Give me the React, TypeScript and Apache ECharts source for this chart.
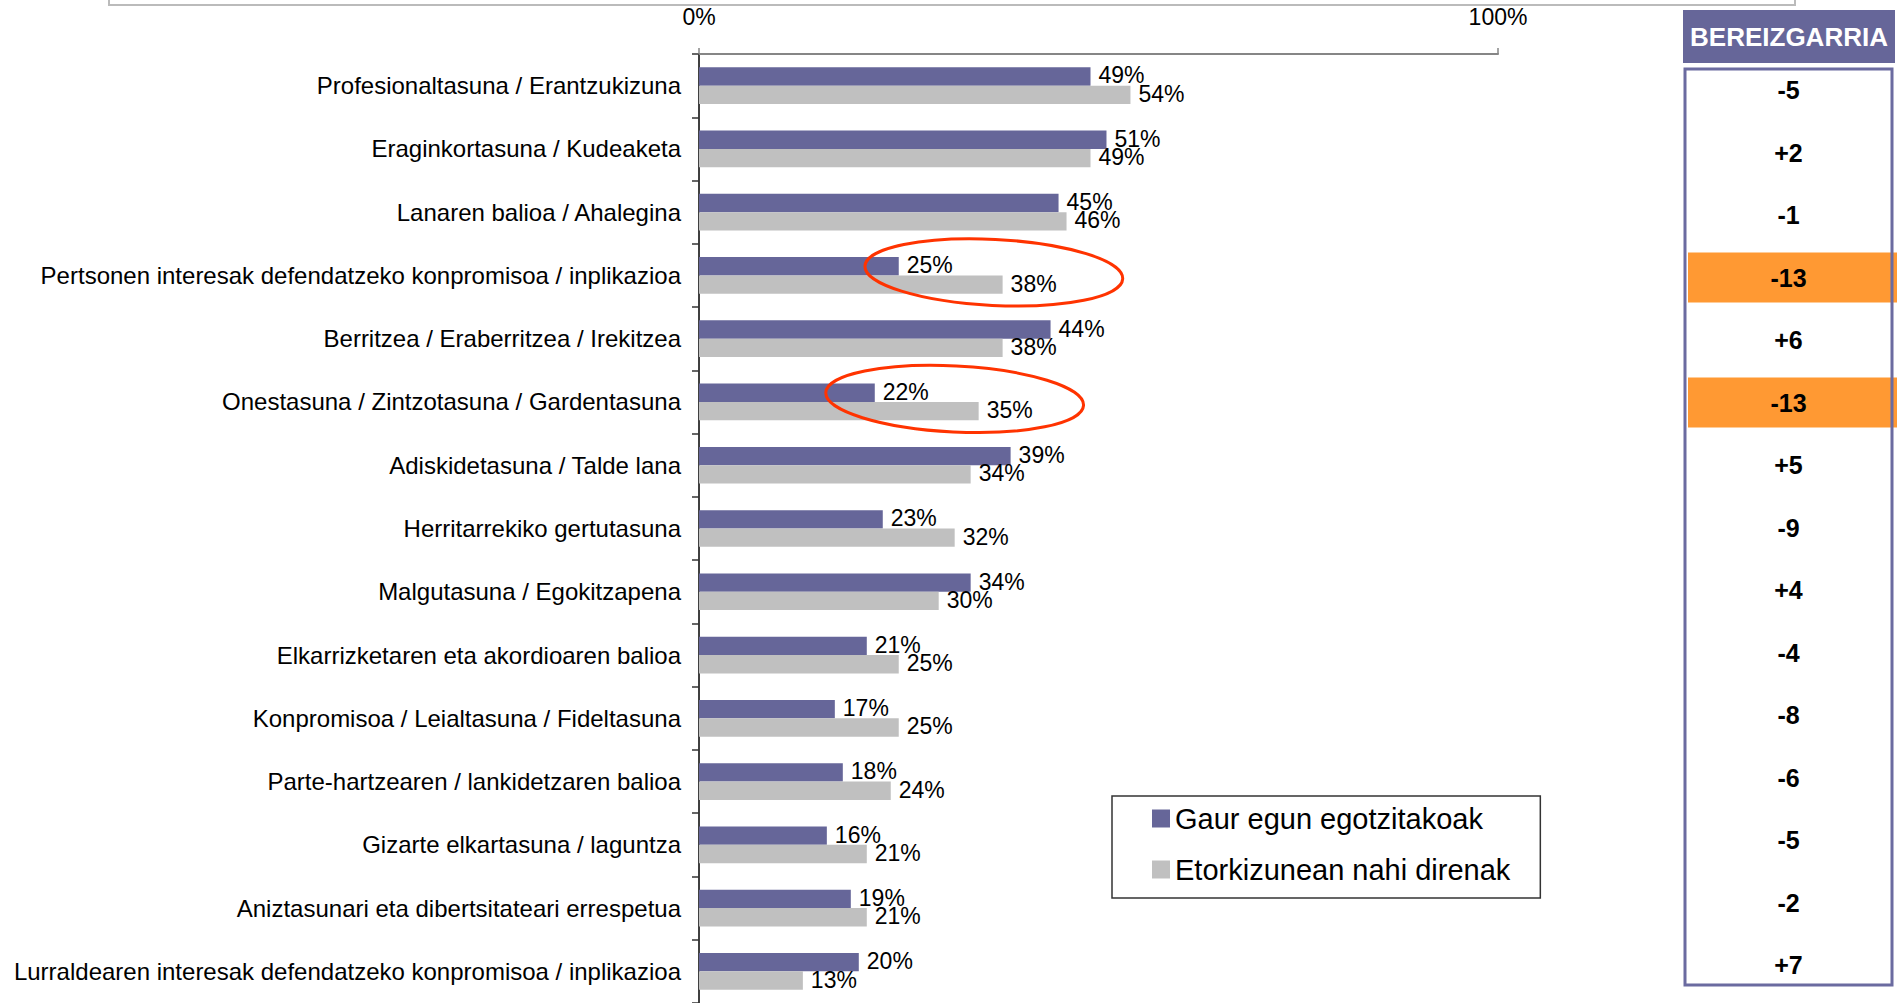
import React, { useEffect, useRef } from "react";
import * as echarts from "echarts";

const categories = [
  "Profesionaltasuna / Erantzukizuna",
  "Eraginkortasuna / Kudeaketa",
  "Lanaren balioa / Ahalegina",
  "Pertsonen interesak defendatzeko konpromisoa / inplikazioa",
  "Berritzea / Eraberritzea / Irekitzea",
  "Onestasuna / Zintzotasuna / Gardentasuna",
  "Adiskidetasuna / Talde lana",
  "Herritarrekiko gertutasuna",
  "Malgutasuna / Egokitzapena",
  "Elkarrizketaren eta akordioaren balioa",
  "Konpromisoa / Leialtasuna / Fideltasuna",
  "Parte-hartzearen / lankidetzaren balioa",
  "Gizarte elkartasuna / laguntza",
  "Aniztasunari eta dibertsitateari errespetua",
  "Lurraldearen interesak defendatzeko konpromisoa / inplikazioa",
];

const gaurEgun = [49, 51, 45, 25, 44, 22, 39, 23, 34, 21, 17, 18, 16, 19, 20];
const etorkizunean = [54, 49, 46, 38, 38, 35, 34, 32, 30, 25, 25, 24, 21, 21, 13];
const bereizgarria = ["-5", "+2", "-1", "-13", "+6", "-13", "+5", "-9", "+4", "-4", "-8", "-6", "-5", "-2", "+7"];
const highlightRows = [3, 5];
const seriesNames = ["Gaur egun egotzitakoak", "Etorkizunean nahi direnak"];
const tableTitle = "BEREIZGARRIA";
const circledRows = [3, 5];
const circleCenterValues = [36.9, 32.0];

const FONT = "'Liberation Sans', Arial, Helvetica, sans-serif";
const PURPLE = "#666699";
const GRAY = "#C0C0C0";
const ORANGE = "#FF9933";

export default function App() {
  const ref = useRef<HTMLDivElement>(null);
  useEffect(() => {
    const chart = echarts.init(ref.current!, null, { renderer: "svg" });
    const valueLabel = {
      show: true,
      position: "right",
      distance: 8,
      formatter: "{c}%",
      fontSize: 23,
      color: "#000",
      offset: [0, -1],
      fontFamily: FONT,
    };
    chart.setOption({
      animation: false,
      backgroundColor: "#ffffff",
      textStyle: { fontFamily: FONT },
      grid: [
        { left: 699, right: 399, top: 54, bottom: -8 },
        { left: 1688, right: 0, top: 58.75, bottom: 6.75 },
      ],
      xAxis: [
        {
          gridIndex: 0,
          type: "value",
          position: "top",
          min: 0,
          max: 100,
          interval: 100,
          splitLine: { show: false },
          axisLine: { show: true, lineStyle: { color: "#868686", width: 2 } },
          axisTick: { show: true, length: 6, lineStyle: { color: "#868686", width: 1.5 } },
          axisLabel: { formatter: "{value}%", fontSize: 23, color: "#000", margin: 26, fontFamily: FONT },
        },
        { gridIndex: 1, type: "value", min: 0, max: 1, show: false },
      ],
      yAxis: [
        {
          gridIndex: 0,
          type: "category",
          data: categories,
          inverse: true,
          axisLine: { show: true, lineStyle: { color: "#000", width: 1.5 } },
          axisTick: { show: true, length: 7, lineStyle: { color: "#333", width: 1.5 } },
          axisLabel: { fontSize: 24, color: "#000", margin: 18, fontFamily: FONT },
        },
        { gridIndex: 1, type: "category", data: categories, inverse: true, show: false },
      ],
      legend: {
        orient: "vertical",
        left: 1112,
        top: 796,
        padding: [8, 30, 14, 40],
        data: seriesNames,
        icon: "rect",
        itemWidth: 18,
        itemHeight: 18,
        itemGap: 22,
        borderColor: "#333",
        borderWidth: 1.5,
        backgroundColor: "#fff",
        textStyle: { fontSize: 29, color: "#000", fontFamily: FONT },
      },
      series: [
        {
          name: seriesNames[0],
          type: "bar",
          xAxisIndex: 0,
          yAxisIndex: 0,
          data: gaurEgun,
          itemStyle: { color: PURPLE },
          barGap: "0%",
          barCategoryGap: "42%",
          label: valueLabel,
        },
        {
          name: seriesNames[1],
          type: "bar",
          xAxisIndex: 0,
          yAxisIndex: 0,
          data: etorkizunean,
          itemStyle: { color: GRAY },
          barGap: "0%",
          barCategoryGap: "42%",
          label: valueLabel,
        },
        {
          type: "bar",
          xAxisIndex: 1,
          yAxisIndex: 1,
          barWidth: 50,
          silent: true,
          data: bereizgarria.map((_, i) => ({
            value: 1,
            itemStyle: { color: highlightRows.includes(i) ? ORANGE : "rgba(0,0,0,0)" },
          })),
          label: {
            show: true,
            position: "inside",
            formatter: (p: any) => bereizgarria[p.dataIndex],
            fontSize: 25,
            fontWeight: "bold",
            color: "#000",
            offset: [-4, 0],
            fontFamily: FONT,
          },
        },
      ],
    });

    const ellipses = circledRows.map((row, k) => {
      const [cx, cy] = chart.convertToPixel({ gridIndex: 0 }, [circleCenterValues[k], categories[row]]) as number[];
      return {
        type: "ellipse",
        x: cx,
        y: cy - 3,
        rotation: -0.05,
        shape: { cx: 0, cy: 0, rx: 129, ry: 33 },
        style: { fill: "none", stroke: "#FF3300", lineWidth: 3 },
        z: 20,
      };
    });

    chart.setOption({
      graphic: [
        {
          type: "rect",
          shape: { x: 109, y: -20, width: 1686, height: 25 },
          style: { fill: "none", stroke: "#BBBBBB", lineWidth: 2 },
          z: 5,
        },
        {
          type: "rect",
          shape: { x: 1683, y: 10, width: 212, height: 53 },
          style: { fill: PURPLE },
          z: 5,
        },
        {
          type: "text",
          x: 1789,
          y: 37,
          style: {
            text: tableTitle,
            fill: "#fff",
            font: `bold 26px ${FONT}`,
            align: "center",
            verticalAlign: "middle",
          },
          z: 6,
        },
        {
          type: "rect",
          shape: { x: 1685, y: 69, width: 207, height: 916 },
          style: { fill: "none", stroke: "#6B6BA0", lineWidth: 3 },
          z: 10,
        },
        ...ellipses,
      ],
    });

    return () => chart.dispose();
  }, []);

  return (
    <div
      ref={ref}
      style={{ position: "absolute", left: 0, top: 0, width: 1897, height: 1003 }}
    />
  );
}
